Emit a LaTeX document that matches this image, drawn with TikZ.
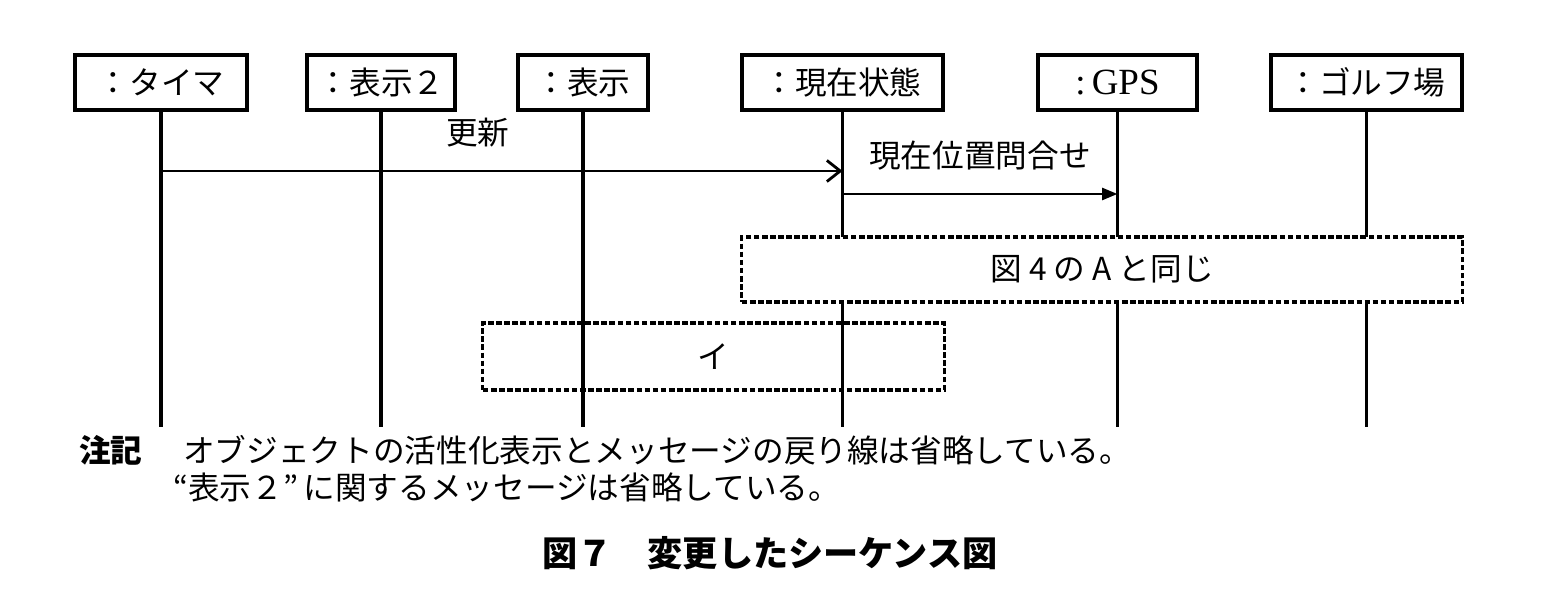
\documentclass[tikz,border=0pt]{standalone}
\usepackage{fontspec}
\setmainfont{Noto Sans CJK JP}
\newfontfamily\latinfont{Liberation Serif}
\usetikzlibrary{arrows.meta}

\tikzset{
  objbox/.style = {draw, fill=white, minimum height=0.55cm, inner sep=0pt},
  refbox/.style = {draw, dash pattern=on 1.6pt off 0.7pt, inner sep=0pt},
  msg/.style = {line width=0.8pt},
}

\begin{document}
\begin{tikzpicture}[x=0.01cm, y=-0.01cm, line width=0.9pt,
    font=\fontsize{9}{11}\selectfont]
  \useasboundingbox (0,0) rectangle (1560,604);

  % objects
  \node[objbox, minimum width=1.72cm] (timer) at (161,82.5) {：タイマ};
  \node[objbox, minimum width=1.48cm] (disp2) at (381,82.5) {：表示２};
  \node[objbox, minimum width=1.30cm] (disp)  at (583,82.5) {：表示};
  \node[objbox, minimum width=2.01cm] (state) at (842.5,82.5) {：現在状態};
  \node[objbox, minimum width=1.59cm] (gps)   at (1117.5,82.5) {{\latinfont\fontsize{10.5}{12}\selectfont :\,GPS}};
  \node[objbox, minimum width=1.91cm] (golf)  at (1366.5,82.5) {：ゴルフ場};

  \coordinate (bot) at (0,427);
  \coordinate (m1) at (0,171);
  \coordinate (m2) at (0,194);

  % lifelines
  \draw (timer.south) -- (timer.south |- bot);
  \draw (disp2.south) -- (disp2.south |- bot);
  \draw (disp.south)  -- (disp.south |- bot);
  \draw (state.south) -- (state.south |- bot);
  \draw (gps.south)   -- (gps.south |- bot);
  \draw (golf.south)  -- (golf.south |- bot);

  % messages
  \draw[msg, -{Straight Barb[length=3.8pt,width=6pt]}] (timer |- m1) -- node[pos=0.465, above=3pt] {更新} (state |- m1);
  \draw[msg, -{Triangle[length=4.4pt,width=3.4pt]}] (state |- m2) -- node[above=3pt] {現在位置問合せ} (gps |- m2);

  % fragments
  \node[refbox, fill=white, minimum width=7.20cm, minimum height=0.65cm] (refA) at (1102,269.5) {図 4 の A と同じ};
  \node[refbox, minimum width=4.61cm, minimum height=0.67cm] (refI) at (713.5,356.5) {イ};

  % notes
  \node[anchor=west, font=\fontsize{9}{11}\selectfont\bfseries] (notehead) at (66,450) {注記};
  \node[anchor=west] (note1) at (170,450) {オブジェクトの活性化表示とメッセージの戻り線は省略している。};
  \node[anchor=west] (note2) at (160,487) {“表示２”\,に関するメッセージは省略している。};
  \node[font=\fontsize{10}{12}\selectfont\bfseries] (caption) at (770,553) {図７　変更したシーケンス図};
\end{tikzpicture}
\end{document}
